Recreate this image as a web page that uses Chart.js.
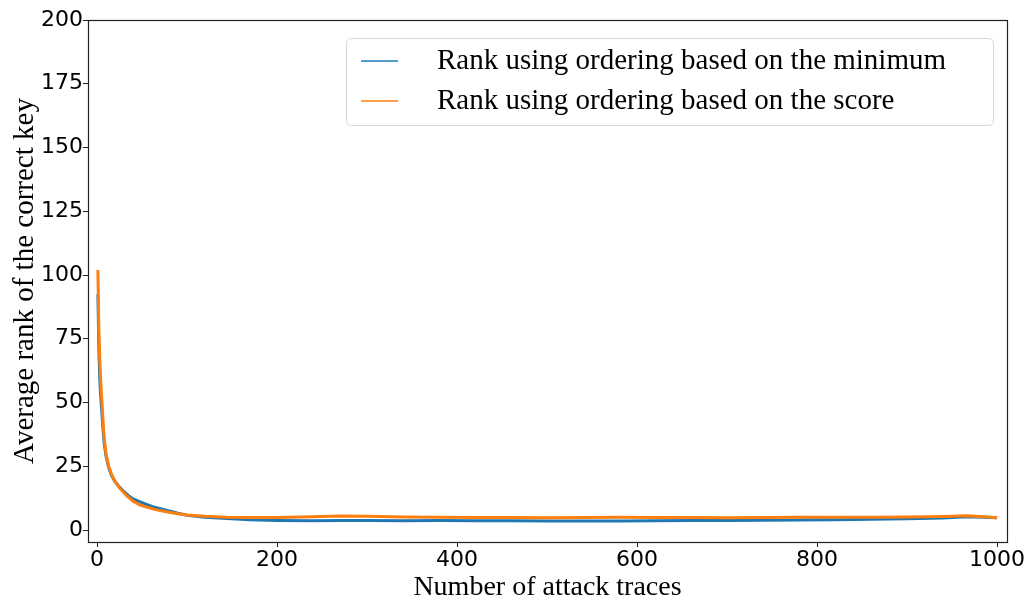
<!DOCTYPE html>
<html>
<head>
<meta charset="utf-8">
<script src="https://cdn.jsdelivr.net/npm/chart.js@4/dist/chart.umd.min.js"></script>
<style>
  html, body { margin: 0; padding: 0; background: #fff; }
  #wrap { width: 1030px; height: 602px; position: relative; }
</style>
</head>
<body>
<div id="wrap"><canvas id="c" width="1030" height="602"></canvas></div>
<script>
// Number of attack traces at which the average rank was sampled
const traces = [1, 2, 3, 4, 5, 6, 7, 8, 10, 13, 16, 20, 25, 30, 35, 40, 48, 55, 65, 77, 90, 100, 120, 144, 170, 200,
  240, 270, 300, 340, 380, 420, 460, 500, 540, 580, 620, 660, 700, 740, 780, 820, 860, 900, 940, 966, 985, 1000];

// Average rank of the correct key, ordering based on the minimum
const rankMinimum = [92.5, 72, 60, 53, 48, 43, 38, 34, 29, 24.5, 21.5, 19, 16.8, 15, 13.5, 12.2, 11, 10, 8.8, 7.8, 6.6, 5.8, 5.0, 4.5, 4.0, 3.7,
  3.6, 3.7, 3.7, 3.6, 3.7, 3.6, 3.6, 3.5, 3.5, 3.5, 3.6, 3.7, 3.7, 3.8, 3.9, 4.0, 4.2, 4.4, 4.7, 5.2, 5.0, 4.8];

// Average rank of the correct key, ordering based on the score
const rankScore = [102, 80, 68, 59, 53, 47, 41, 36, 30, 25, 22, 19, 16.5, 14.5, 12.8, 11.3, 9.8, 9.0, 8.0, 7.2, 6.4, 5.9, 5.4, 5.0, 4.9, 4.9,
  5.2, 5.5, 5.4, 5.1, 5.0, 4.9, 4.9, 4.8, 4.9, 5.0, 4.9, 4.9, 4.8, 4.9, 5.0, 5.0, 5.0, 5.1, 5.3, 5.6, 5.2, 4.8];

const seriesLabels = ['Rank using ordering based on the minimum', 'Rank using ordering based on the score'];
const xTickValues = [0, 200, 400, 600, 800, 1000];
const yTickValues = [0, 25, 50, 75, 100, 125, 150, 175, 200];

const BLUE = '#1f77b4';
const ORANGE = '#ff7f0e';
const SERIF = '"Liberation Serif", "Times New Roman", serif';
const SANS = '"DejaVu Sans", sans-serif';

const toPoints = (xs, ys) => xs.map((x, i) => ({ x: x, y: ys[i] }));

// Frame around the plotting area (all four spines)
const framePlugin = {
  id: 'frame',
  afterDatasetsDraw(chart) {
    const a = chart.chartArea, ctx = chart.ctx;
    ctx.save();
    ctx.strokeStyle = '#222';
    ctx.lineWidth = 1.2;
    ctx.strokeRect(Math.round(a.left) + 0.5, Math.round(a.top) + 0.5,
      Math.round(a.right - a.left), Math.round(a.bottom - a.top));
    ctx.restore();
  }
};

// Boxed legend in the upper right of the plotting area
const boxLegendPlugin = {
  id: 'boxLegend',
  afterDraw(chart) {
    const ctx = chart.ctx;
    const x0 = 346.5, y0 = 38.5, w = 647, h = 87, r = 5;
    ctx.save();
    ctx.beginPath();
    ctx.moveTo(x0 + r, y0);
    ctx.lineTo(x0 + w - r, y0);
    ctx.quadraticCurveTo(x0 + w, y0, x0 + w, y0 + r);
    ctx.lineTo(x0 + w, y0 + h - r);
    ctx.quadraticCurveTo(x0 + w, y0 + h, x0 + w - r, y0 + h);
    ctx.lineTo(x0 + r, y0 + h);
    ctx.quadraticCurveTo(x0, y0 + h, x0, y0 + h - r);
    ctx.lineTo(x0, y0 + r);
    ctx.quadraticCurveTo(x0, y0, x0 + r, y0);
    ctx.closePath();
    ctx.fillStyle = 'rgba(255,255,255,0.8)';
    ctx.fill();
    ctx.strokeStyle = '#d6d6d6';
    ctx.lineWidth = 1;
    ctx.stroke();

    const rows = [61, 101];
    ctx.font = '29px ' + SERIF;
    ctx.textBaseline = 'middle';
    ctx.fillStyle = '#000';
    chart.data.datasets.forEach((ds, i) => {
      const y = rows[i];
      ctx.beginPath();
      ctx.strokeStyle = ds.borderColor;
      ctx.lineWidth = 1.6;
      ctx.moveTo(361, y);
      ctx.lineTo(398, y);
      ctx.stroke();
      ctx.fillText(ds.label, 437, y);
    });
    ctx.restore();
  }
};

new Chart(document.getElementById('c'), {
  type: 'line',
  data: {
    datasets: [
      {
        label: seriesLabels[0],
        data: toPoints(traces, rankMinimum),
        borderColor: BLUE,
        backgroundColor: BLUE,
        borderWidth: 3,
        pointRadius: 0,
        tension: 0,
        order: 2
      },
      {
        label: seriesLabels[1],
        data: toPoints(traces, rankScore),
        borderColor: ORANGE,
        backgroundColor: ORANGE,
        borderWidth: 3,
        pointRadius: 0,
        tension: 0,
        order: 1
      }
    ]
  },
  options: {
    responsive: false,
    animation: false,
    devicePixelRatio: 1,
    layout: { padding: { top: 20, right: 23, left: 0, bottom: 0 } },
    plugins: {
      legend: { display: false },
      tooltip: { enabled: false }
    },
    scales: {
      x: {
        type: 'linear',
        min: -10,
        max: 1011,
        afterBuildTicks(scale) { scale.ticks = xTickValues.map(v => ({ value: v })); },
        afterFit(scale) { scale.height = 60; },
        grid: { drawOnChartArea: false, drawTicks: true, tickLength: 5, color: '#222', lineWidth: 1 },
        border: { display: false },
        ticks: {
          color: '#000', font: { family: SANS, size: 22 }, padding: 0, maxRotation: 0,
          callback: (v) => String(v)
        },
        title: {
          display: true,
          text: 'Number of attack traces',
          color: '#000',
          font: { family: SERIF, size: 28, lineHeight: 1.0 },
          padding: { top: 0, bottom: 0 }
        }
      },
      y: {
        type: 'linear',
        min: -4.7,
        max: 200,
        afterBuildTicks(scale) { scale.ticks = yTickValues.map(v => ({ value: v })); },
        afterFit(scale) { scale.width = 88; },
        grid: { drawOnChartArea: false, drawTicks: true, tickLength: 5, color: '#222', lineWidth: 1 },
        border: { display: false },
        ticks: {
          color: '#000', font: { family: SANS, size: 22 }, padding: 0,
          callback: (v) => String(v)
        },
        title: {
          display: true,
          text: 'Average rank of the correct key',
          color: '#000',
          font: { family: SERIF, size: 29, lineHeight: 1.2 },
          padding: { top: 8, bottom: 0 }
        }
      }
    }
  },
  plugins: [framePlugin, boxLegendPlugin]
});
</script>
</body>
</html>
